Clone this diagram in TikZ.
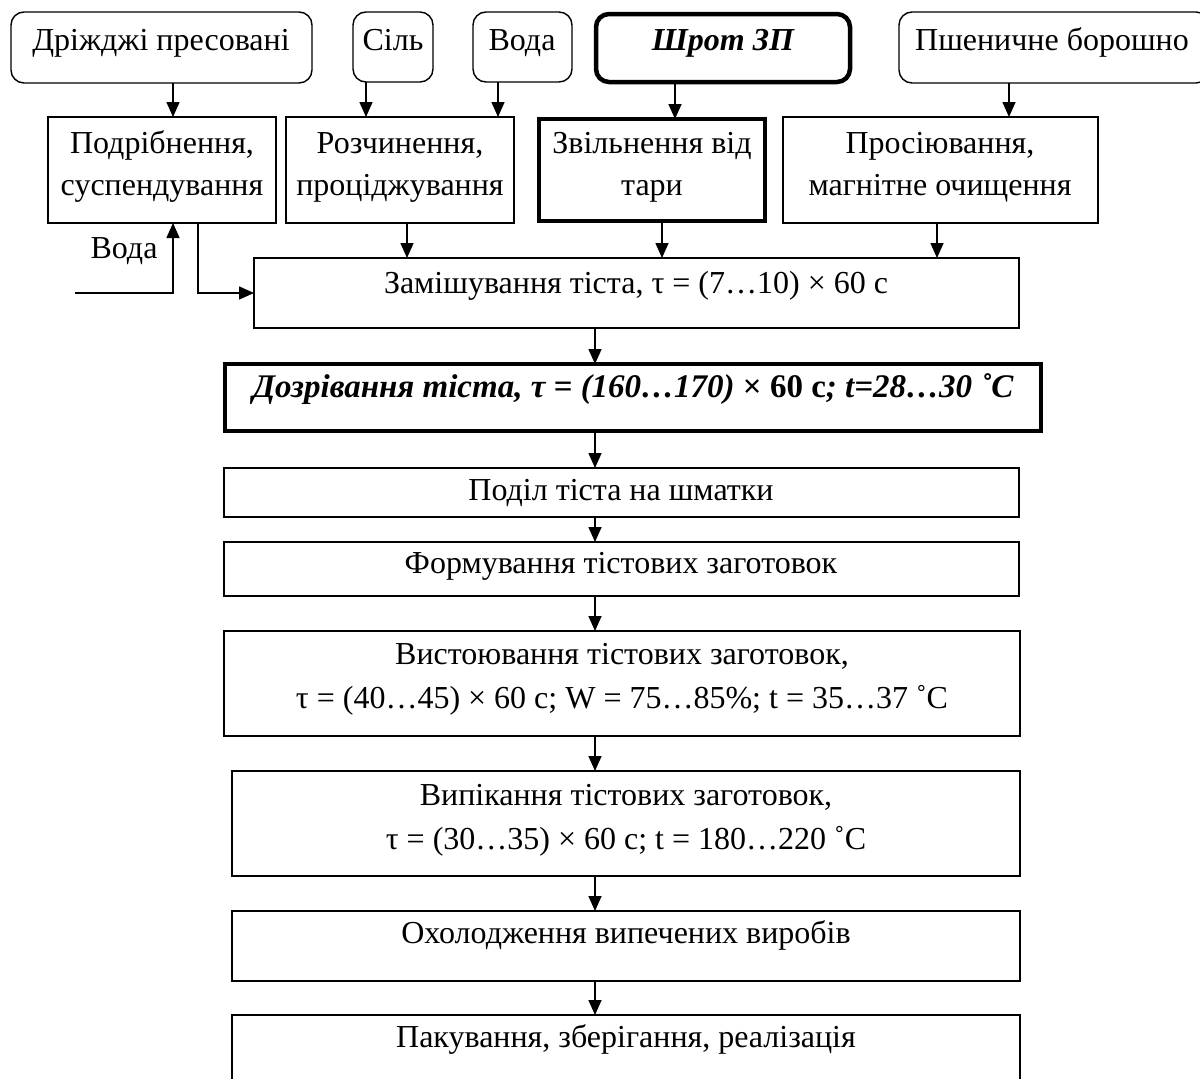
\documentclass[tikz,border=0pt]{standalone}
\usepackage{fontspec}
\setmainfont{Liberation Serif}
\usetikzlibrary{arrows.meta}
\tikzset{
  boxbase/.style={draw=black, line width=1.4pt, inner sep=0pt, outer sep=0pt, anchor=north west},
  rbox/.style={boxbase, rounded corners=13pt},
  rboxthick/.style={rbox, line width=4.5pt},
  sbox/.style={boxbase},
  sboxthick/.style={boxbase, line width=4.5pt},
  txt/.style={inner sep=0pt, outer sep=0pt, anchor=base, font=\fontsize{32}{38}\selectfont},
  arr/.style={line width=1.6pt, -{Triangle[length=15pt,width=13pt]}},
}
\begin{document}
\begin{tikzpicture}[x=1pt,y=-1pt]
\useasboundingbox (0,0) rectangle (1200,1079);
\clip (0,0) rectangle (1200,1079);
% top row
\node[rbox, minimum width=301pt, minimum height=71pt] (b1) at (11,12) {};
\node[rbox, minimum width=80pt, minimum height=70pt] (b2) at (353,12) {};
\node[rbox, minimum width=99pt, minimum height=70pt] (b3) at (473,12) {};
\node[rboxthick, minimum width=254pt, minimum height=68pt] (b4) at (596,14) {};
\node[rbox, minimum width=310pt, minimum height=71pt] (b5) at (899,12) {};
\node[txt] (tb1) at (161,50) {Дріжджі пресовані};
\node[txt] (tb2) at (393,50) {Сіль};
\node[txt] (tb3) at (522,50) {Вода};
\node[txt] (tb4) at (723,50) {\bfseries\itshape Шрот ЗП};
\node[txt] (tb5) at (1052,50) {Пшеничне борошно};
% second row
\node[sbox, minimum width=228pt, minimum height=106pt] (p1) at (48,117) {};
\node[sbox, minimum width=228pt, minimum height=106pt] (p2) at (286,117) {};
\node[sboxthick, minimum width=226pt, minimum height=102pt] (p3) at (539,119) {};
\node[sbox, minimum width=315pt, minimum height=106pt] (p4) at (783,117) {};
\node[txt] (tp1a) at (162,153) {Подрібнення,};
\node[txt] (tp1b) at (162,195) {суспендування};
\node[txt] (tp2a) at (400,153) {Розчинення,};
\node[txt] (tp2b) at (400,195) {проціджування};
\node[txt] (tp3a) at (652,153) {Звільнення від};
\node[txt] (tp3b) at (652,195) {тари};
\node[txt] (tp4a) at (940,153) {Просіювання,};
\node[txt] (tp4b) at (940,195) {магнітне очищення};
% main column
\node[sbox, minimum width=765pt, minimum height=70pt] (m) at (254,258) {};
\node[txt] (tm) at (636,293) {Замішування тіста, τ = (7…10) × 60 с};
\node[sboxthick, minimum width=816pt, minimum height=67pt] (dz) at (225,364) {};
\node[txt, font=\fontsize{33}{38}\selectfont] (tdz) at (633,397) {\bfseries\itshape Дозрівання тіста, τ = (160…170)\upshape{} × 60 с\itshape; t=28…30 ˚C};
\node[sbox, minimum width=795pt, minimum height=49pt] (pd) at (224,468) {};
\node[txt] (tpd) at (621,500) {Поділ тіста на шматки};
\node[sbox, minimum width=795pt, minimum height=54pt] (fm) at (224,542) {};
\node[txt] (tfm) at (621,573) {Формування тістових заготовок};
\node[sbox, minimum width=796pt, minimum height=105pt] (vs) at (224,631) {};
\node[txt] (tvsa) at (622,664) {Вистоювання тістових заготовок,};
\node[txt] (tvsb) at (622,708) {τ = (40…45) × 60 с; W = 75…85\%; t = 35…37 ˚C};
\node[sbox, minimum width=788pt, minimum height=105pt] (vp) at (232,771) {};
\node[txt] (tvpa) at (626,805) {Випікання тістових заготовок,};
\node[txt] (tvpb) at (626,849) {τ = (30…35) × 60 с; t = 180…220 ˚C};
\node[sbox, minimum width=788pt, minimum height=70pt] (oh) at (232,911) {};
\node[txt] (toh) at (626,943) {Охолодження випечених виробів};
\node[sbox, minimum width=788pt, minimum height=100pt] (pk) at (232,1015) {};
\node[txt] (tpk) at (626,1047) {Пакування, зберігання, реалізація};
% arrows top -> second row
\draw[arr] (173,0 |- b1.south) -- (173,0 |- p1.north);
\draw[arr] (366,0 |- b2.south) -- (366,0 |- p2.north);
\draw[arr] (498,0 |- b3.south) -- (498,0 |- p2.north);
\draw[arr] (675,0 |- b4.south) -- (675,0 |- p3.north);
\draw[arr] (1009,0 |- b5.south) -- (1009,0 |- p4.north);
% second row -> mixing
\draw[arr] (407,0 |- p2.south) -- (407,0 |- m.north);
\draw[arr] (662,0 |- p3.south) -- (662,0 |- m.north);
\draw[arr] (937,0 |- p4.south) -- (937,0 |- m.north);
% water input
\coordinate (w0) at (75,293);
\draw[arr] (w0) -| (173,0 |- p1.south);
\node[txt] (tw) at (124,258) {Вода};
\draw[arr] (198,0 |- p1.south) |- (m.west);
% main chain
\draw[arr] (595,0 |- m.south) -- (595,0 |- dz.north);
\draw[arr] (595,0 |- dz.south) -- (595,0 |- pd.north);
\draw[arr] (595,0 |- pd.south) -- (595,0 |- fm.north);
\draw[arr] (595,0 |- fm.south) -- (595,0 |- vs.north);
\draw[arr] (595,0 |- vs.south) -- (595,0 |- vp.north);
\draw[arr] (595,0 |- vp.south) -- (595,0 |- oh.north);
\draw[arr] (595,0 |- oh.south) -- (595,0 |- pk.north);
\end{tikzpicture}
\end{document}
